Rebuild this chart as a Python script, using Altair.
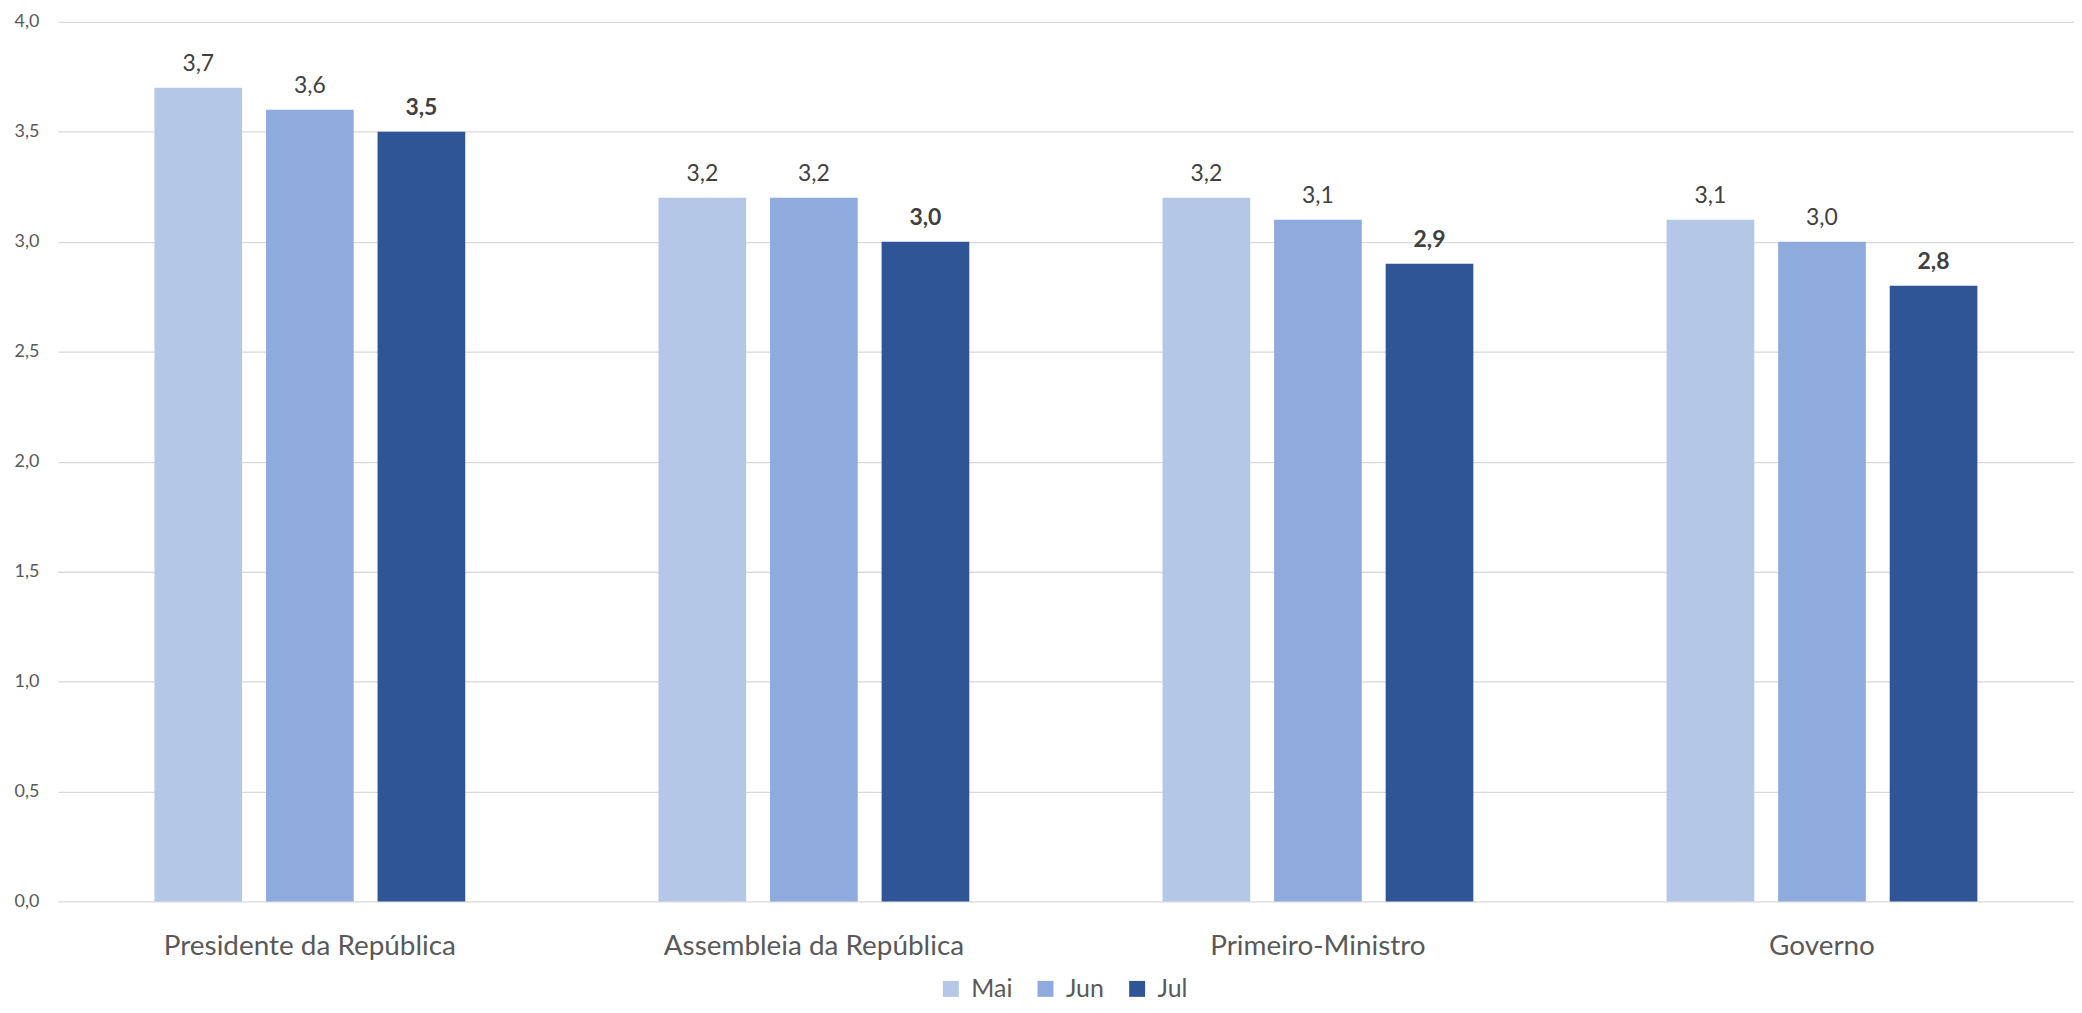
import altair as alt
import pandas as pd

categories = ["Presidente da República", "Assembleia da República", "Primeiro-Ministro", "Governo"]
months = ["Mai", "Jun", "Jul"]
mai = [3.7, 3.2, 3.2, 3.1]
jun = [3.6, 3.2, 3.1, 3.0]
jul = [3.5, 3.0, 2.9, 2.8]
colors = ["#B4C7E7", "#8FAADC", "#2F5597"]

rows = []
for i, c in enumerate(categories):
    for m, vals in zip(months, [mai, jun, jul]):
        rows.append({"cat": c, "month": m, "value": vals[i]})
df = pd.DataFrame(rows)

FONT = "Lato"

x = alt.X("cat:N", sort=categories, title=None,
          scale=alt.Scale(paddingInner=0, paddingOuter=0),
          axis=alt.Axis(labelAngle=0, labelFontSize=28, labelColor="#595959", labelFont=FONT,
                        labelPadding=31, labelLimit=0, ticks=False, domain=False, grid=False))
xo = alt.XOffset("month:N", sort=months,
                 scale=alt.Scale(paddingInner=0.214, paddingOuter=0.866))
y = alt.Y("value:Q", title=None,
          scale=alt.Scale(domain=[0, 4], nice=False),
          axis=alt.Axis(values=[0, 0.5, 1, 1.5, 2, 2.5, 3, 3.5, 4],
                        labelExpr="replace(format(datum.value, '.1f'), '.', ',')",
                        labelFontSize=18, labelColor="#595959", labelFont=FONT, labelPadding=19,
                        ticks=False, domain=False, gridColor="#D9D9D9", gridWidth=1.3))

base = alt.Chart(df)

bars = base.mark_bar().encode(
    x=x, xOffset=xo, y=y,
    color=alt.Color("month:N", sort=months,
                    scale=alt.Scale(domain=months, range=colors),
                    legend=alt.Legend(title=None, orient="none", legendX=884, legendY=958,
                                      direction="horizontal", symbolType="square",
                                      symbolSize=256, symbolStrokeWidth=0,
                                      labelFontSize=25, labelColor="#595959", labelFont=FONT,
                                      labelOffset=8, columnPadding=20, padding=0)),
)

lab_expr = "replace(format(datum.value, '.1f'), '.', ',')"

txt_norm = base.transform_filter("datum.month != 'Jul'").transform_calculate(
    lab=lab_expr).mark_text(baseline="bottom", dy=-12, fontSize=23, color="#404040", font=FONT).encode(
    x=alt.X("cat:N", sort=categories), xOffset=xo, y=alt.Y("value:Q"), text="lab:N")

txt_bold = base.transform_filter("datum.month == 'Jul'").transform_calculate(
    lab=lab_expr).mark_text(baseline="bottom", dy=-12, fontSize=23, fontWeight="bold",
                            color="#404040", font=FONT).encode(
    x=alt.X("cat:N", sort=categories), xOffset=xo, y=alt.Y("value:Q"), text="lab:N")

chart = alt.layer(bars, txt_norm, txt_bold).properties(
    width=2024, height=883,
    padding={"left": 50, "top": 12, "right": 0, "bottom": 103},
    autosize=alt.AutoSizeParams(type="none"),
).configure_view(stroke=None)

chart.save("out.html", embed_options={"renderer": "svg", "actions": False})
